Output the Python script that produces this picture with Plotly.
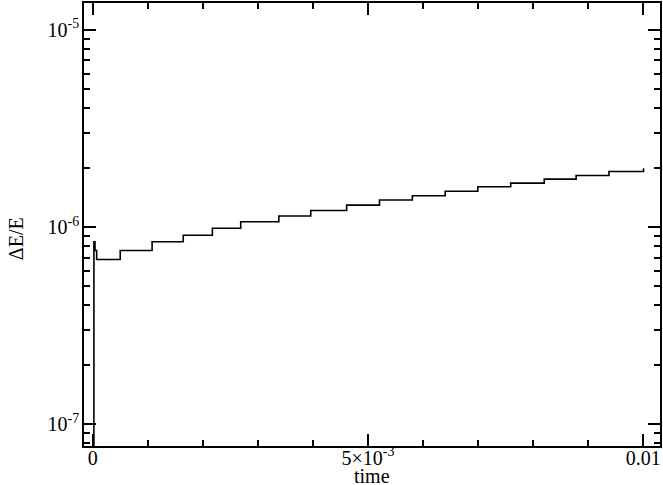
import plotly.graph_objects as go

# Step times (when the energy error changes level) and the corresponding levels
time = [0.0, 0.00002, 0.00004, 0.00007, 0.000498, 0.001077, 0.001643, 0.002172,
        0.002687, 0.003380, 0.003959, 0.004611, 0.005208, 0.005805, 0.006402,
        0.006994, 0.007592, 0.008201, 0.008780, 0.009377, 0.009998, 0.010005]
dE_E = [1e-9, 8.40e-7, 7.60e-7, 6.84e-7, 7.60e-7, 8.42e-7, 9.08e-7, 9.85e-7,
        1.062e-6, 1.136e-6, 1.211e-6, 1.291e-6, 1.369e-6, 1.441e-6, 1.518e-6,
        1.600e-6, 1.668e-6, 1.748e-6, 1.824e-6, 1.911e-6, 1.911e-6, 1.986e-6]

x_tickvals = [0, 0.005, 0.01]
x_ticktext = ["0", "5×10<sup>-3</sup>", "0.01"]
x_minor = [0.001, 0.002, 0.003, 0.004, 0.006, 0.007, 0.008, 0.009]
y_tickvals = [1e-7, 1e-6, 1e-5]
y_ticktext = ["10<sup>-7</sup>", "10<sup>-6</sup>", "10<sup>-5</sup>"]
y_minor = [m * 10 ** e for e in (-8, -7, -6) for m in range(2, 10)]

font = dict(family="Liberation Serif, Times New Roman, serif", size=20, color="black")

fig = go.Figure()
fig.add_trace(go.Scatter(x=time, y=dE_E, mode="lines", line_shape="hv",
                         line=dict(color="black", width=1.6), showlegend=False))

axis_common = dict(showgrid=False, zeroline=False, showline=True, linecolor="black",
                   linewidth=1.5, mirror="allticks", ticks="inside", ticklen=12,
                   tickwidth=1.5, tickcolor="black", tickfont=font)

fig.update_xaxes(range=[-0.00016, 0.010304], tickvals=x_tickvals, ticktext=x_ticktext,
                 minor=dict(tickvals=x_minor, ticks="inside", ticklen=6, tickwidth=1.5,
                            tickcolor="black", showgrid=False),
                 ticklabelstandoff=-7, **axis_common)
fig.update_yaxes(type="log", range=[-7.111, -4.864], tickvals=y_tickvals, ticktext=y_ticktext,
                 minor=dict(tickvals=y_minor, ticks="inside", ticklen=6, tickwidth=1.5,
                            tickcolor="black", showgrid=False),
                 ticklabelstandoff=-1, **axis_common)

fig.add_annotation(text="time", xref="paper", yref="paper", x=0.5, y=-0.068,
                   showarrow=False, font=font, yanchor="middle")
fig.add_annotation(text="ΔE/E", xref="paper", yref="paper", x=-0.118, y=0.467,
                   showarrow=False, font=font, textangle=-90, xanchor="center", yanchor="middle")

fig.update_layout(width=663, height=485, margin=dict(l=84, r=2, t=1, b=39),
                  plot_bgcolor="white", paper_bgcolor="white", font=font)

fig.write_html("out.html", config={"displayModeBar": False},
               post_script="document.body.style.margin='0px';")
